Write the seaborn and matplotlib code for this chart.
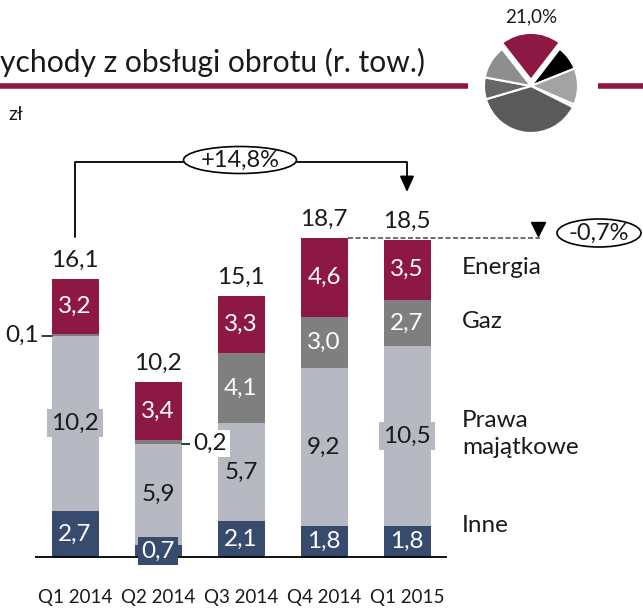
import matplotlib
matplotlib.use("Agg")
import matplotlib.pyplot as plt
from matplotlib.patches import Ellipse
from matplotlib.lines import Line2D
import seaborn as sns
import numpy as np

sns.set_theme(style="white")
plt.rcParams['font.family'] = ['Lato', 'DejaVu Sans']

# ---- data ----
quarters = ["Q1 2014", "Q2 2014", "Q3 2014", "Q4 2014", "Q1 2015"]
inne = [2.7, 0.7, 2.1, 1.8, 1.8]
prawa = [10.2, 5.9, 5.7, 9.2, 10.5]
gaz = [0.1, 0.2, 4.1, 3.0, 2.7]
energia = [3.2, 3.4, 3.3, 4.6, 3.5]
totals = [16.1, 10.2, 15.1, 18.7, 18.5]
series_names = ["Energia", "Gaz", "Prawa\nmajątkowe", "Inne"]
growth_yoy = "+14,8%"
growth_qoq = "-0,7%"
pie_share = [21.0, 8.5, 12.5, 1.0, 38.0, 7.5, 11.5]
pie_label = "21,0%"
title = "ychody z obsługi obrotu (r. tow.)"
unit = "zł"

c_energia = "#8E1844"
c_gaz = "#7F7F7F"
c_prawa = "#B6B8C2"
c_inne = "#364B6E"
pie_colors = [c_energia, "#000000", "#A3A3A3", "#EEEEEE", "#5A5A5A", "#666666", "#8E8E8E"]

W, H = 643, 608
fig = plt.figure(figsize=(W / 100, H / 100), dpi=100)
ax = fig.add_axes([0, 0, 1, 1])

# pixel -> data helpers (layout only)
X0, DX, Y0, DY = 75, 83, 557, 17.15
def X(px):
    return (px - X0) / DX
def Y(py):
    return (Y0 - py) / DY

inne_a = np.array(inne)
l1 = inne_a
l2 = l1 + np.array(prawa)
l3 = l2 + np.array(gaz)
l4 = l3 + np.array(energia)

bw = 47 / 83
for cum, col in [(l4, c_energia), (l3, c_gaz), (l2, c_prawa), (l1, c_inne)]:
    sns.barplot(x=quarters, y=cum, color=col, width=bw, saturation=1,
                linewidth=0, edgecolor="none", ax=ax, zorder=2)

ax.set_xlim(X(0), X(W))
ax.set_ylim(Y(H), Y(0))
ax.axis("off")

def fmt(v):
    return f"{v:.1f}".replace(".", ",")

FS = 17.5
TXT = "#1a1a1a"
# axis line
ax.plot([X(35), X(447)], [0, 0], color="black", lw=1.3, zorder=3, solid_capstyle="butt")

half = bw / 2
for i in range(len(quarters)):
    # totals
    ax.text(i, l4[i] + 1.1, fmt(totals[i]), ha="center", va="center", fontsize=FS, color=TXT, zorder=6)
    # energia
    ax.text(i, l3[i] + energia[i] / 2, fmt(energia[i]), ha="center", va="center", fontsize=FS, color="white", zorder=6)
    # gaz
    if gaz[i] >= 1:
        ax.text(i, l2[i] + gaz[i] / 2, fmt(gaz[i]), ha="center", va="center", fontsize=FS, color="white", zorder=6)
    # prawa
    ax.text(i, l1[i] + prawa[i] / 2, fmt(prawa[i]), ha="center", va="center", fontsize=FS, color=TXT, zorder=6,
            bbox=dict(boxstyle="square,pad=0.15", fc=c_prawa, ec="none"))
    # inne
    kw = {}
    if inne[i] < 1:
        kw["bbox"] = dict(boxstyle="square,pad=0.15", fc=c_inne, ec="none")
    ax.text(i, inne[i] / 2, fmt(inne[i]), ha="center", va="center", fontsize=FS, color="white", zorder=6, **kw)

# small gaz values outside the bars
ax.plot([0 - half - 0.11, 0 - half], [l2[0], l2[0]], color="black", lw=1.1, zorder=5)
ax.text(0 - half - 0.15, l2[0], fmt(gaz[0]), ha="right", va="center", fontsize=FS, color=TXT, zorder=6)
ax.plot([1 + half, 1 + half + 0.1], [l2[1], l2[1]], color="black", lw=1.1, zorder=5)
ax.text(1 + half + 0.14, l2[1], fmt(gaz[1]), ha="left", va="center", fontsize=FS, color=TXT, zorder=6,
        bbox=dict(boxstyle="square,pad=0.12", fc="white", ec="none"))

# series names on the right
ax.text(X(462), Y(268), series_names[0], ha="left", va="center", fontsize=FS, color=TXT)
ax.text(X(462), Y(322), series_names[1], ha="left", va="center", fontsize=FS, color=TXT)
ax.text(X(462), Y(434), series_names[2], ha="left", va="center", fontsize=FS, color=TXT, linespacing=1.3)
ax.text(X(462), Y(525), series_names[3], ha="left", va="center", fontsize=FS, color=TXT)

# category labels
for i, q in enumerate(quarters):
    ax.text(i, Y(598), q, ha="center", va="center", fontsize=13.5, color=TXT)

# bracket with growth
ax.plot([0, 0, 4, 4], [Y(237), Y(162), Y(162), Y(180)], color="black", lw=1.3, zorder=4)
ax.annotate("", xy=(4, Y(192)), xytext=(4, Y(179)),
            arrowprops=dict(arrowstyle="-|>,head_length=0.6,head_width=0.27", mutation_scale=16,
                            color="black", lw=1.3, shrinkA=0, shrinkB=0), zorder=4)
ax.add_patch(Ellipse((X(240), Y(160)), 113 / DX, 27 / DY, fc="white", ec="black", lw=1.2, zorder=5))
ax.text(X(240), Y(160), growth_yoy, ha="center", va="center", fontsize=17, color=TXT, zorder=6)

# dashed comparison line
ax.plot([3 + half, X(540)], [l4[3], l4[3]], ls=(0, (3, 1.5)), color="#555555", lw=1.2, zorder=4)
ax.plot([X(538)], [Y(229)], marker="v", ms=10, color="black", zorder=5)
ax.add_patch(Ellipse((X(599), Y(233)), 84 / DX, 28 / DY, fc="white", ec="black", lw=1.2, zorder=5))
ax.text(X(599), Y(233), growth_qoq, ha="center", va="center", fontsize=17, color=TXT, zorder=6)

# title, rule and unit
fig.text(0.0, 1 - 62 / H, title, ha="left", va="center", fontsize=21.6, color=TXT)
fig.add_artist(Line2D([0, 468 / W], [1 - 86 / H] * 2, color=c_energia, lw=4, solid_capstyle="butt"))
fig.add_artist(Line2D([598 / W, 1], [1 - 86 / H] * 2, color=c_energia, lw=4, solid_capstyle="butt"))
fig.text(8 / W, 1 - 115 / H, unit, ha="left", va="center", fontsize=14, color=TXT)
fig.text(531 / W, 1 - 17 / H, pie_label, ha="center", va="center", fontsize=13.5, color=TXT)

# pie
pax = fig.add_axes([(531 - 60) / W, (H - 86 - 60) / H, 120 / W, 120 / H])
explode = [0.13] + [0.0] * (len(pie_share) - 1)
pax.pie(pie_share, colors=pie_colors, startangle=128, counterclock=False, explode=explode,
        wedgeprops=dict(edgecolor="white", linewidth=1.5))
pax.set_xlim(-1.277, 1.277)
pax.set_ylim(-1.277, 1.277)
pax.set_aspect("equal")
pax.axis("off")

fig.savefig("out.png", dpi=100)
